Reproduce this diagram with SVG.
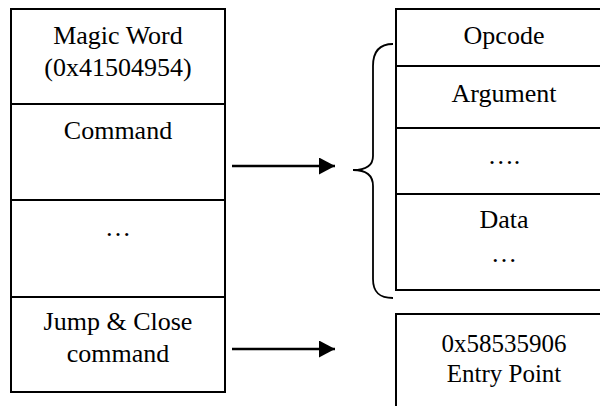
<svg xmlns="http://www.w3.org/2000/svg" width="600" height="406" viewBox="0 0 600 406">
<style>
.box{fill:#fff;stroke:#000;stroke-width:2}
.div{stroke:#000;stroke-width:2}
.t{font-family:"Liberation Serif","Times New Roman",serif;font-size:26px;fill:#000;text-anchor:middle}
.conn{stroke:#000;stroke-width:2.5;fill:none}
.brace{stroke:#000;stroke-width:1.8;fill:none}
</style>
<defs>
<marker id="ah" markerWidth="17" markerHeight="17" refX="16" refY="8.5" orient="auto" markerUnits="userSpaceOnUse">
<path d="M0,0 L16,8.5 L0,17 Z" fill="#000"/>
</marker>
</defs>
<rect width="600" height="406" fill="#fff"/>
<g id="left-stack">
<rect class="box" x="11" y="9" width="214" height="383"/>
<line class="div" x1="11" y1="104" x2="225" y2="104"/>
<line class="div" x1="11" y1="200" x2="225" y2="200"/>
<line class="div" x1="11" y1="297" x2="225" y2="297"/>
<text class="t" x="118" y="44">Magic Word</text>
<text class="t" x="118" y="76">(0x41504954)</text>
<text class="t" x="118" y="139">Command</text>
<text class="t" x="118" y="236">…</text>
<text class="t" x="118" y="330">Jump &amp; Close</text>
<text class="t" x="118" y="362">command</text>
</g>
<g id="command-stack">
<rect class="box" x="396" y="9" width="230" height="281"/>
<line class="div" x1="396" y1="66" x2="626" y2="66"/>
<line class="div" x1="396" y1="128" x2="626" y2="128"/>
<line class="div" x1="396" y1="194" x2="626" y2="194"/>
<text class="t" x="504" y="44">Opcode</text>
<text class="t" x="504" y="102">Argument</text>
<text class="t" x="504" y="164">….</text>
<text class="t" x="504" y="228">Data</text>
<text class="t" x="504" y="262">…</text>
</g>
<g id="entry-point">
<rect class="box" x="396" y="314" width="230" height="120"/>
<text class="t" x="504" y="352" style="font-size:25px">0x58535906</text>
<text class="t" x="504" y="382" style="font-size:25px">Entry Point</text>
</g>
<g id="brace">
<path class="brace" d="M393,44 C379,44 373,52 373,66 L373,156 C373,166 366,170 353,170 C366,170 373,175 373,186 L373,279 C373,292 379,298 393,298"/>
</g>
<g id="connectors">
<line class="conn" x1="232" y1="166" x2="335" y2="166" marker-end="url(#ah)"/>
<line class="conn" x1="232" y1="349" x2="335" y2="349" marker-end="url(#ah)"/>
</g>
</svg>
